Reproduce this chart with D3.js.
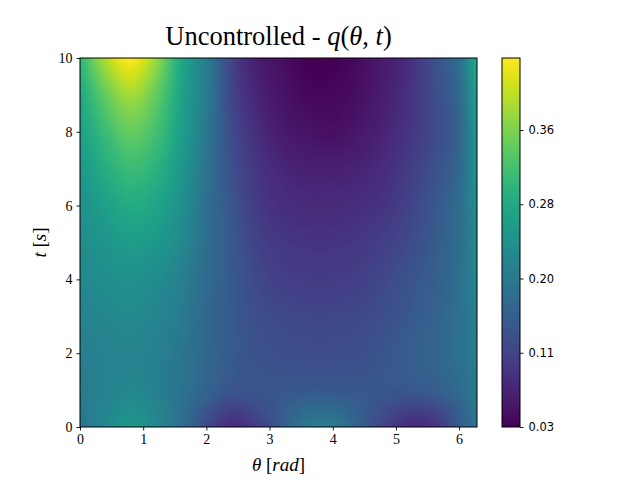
<!DOCTYPE html>
<html><head><meta charset="utf-8">
<script src="https://cdn.jsdelivr.net/npm/d3@7"></script>
<style>body{margin:0;background:#fff} svg{display:block}</style>
</head><body>
<script>
// ---- data ----
const thetaKnots = [0, 0.4, 0.8, 1.2, 1.6, 2.0, 2.4, 2.8, 3.2, 3.6, 4.0, 4.4, 4.8, 5.2, 5.6, 6.0, 6.283];
const tKnots = [0, 0.5, 1, 2, 3, 4, 5, 6, 7, 8, 9, 10];
const qT0   = [.187,.220,.248,.224,.179,.121,.080,.103,.150,.195,.199,.160,.113,.080,.088,.146,.187];
const qT05  = [.195,.216,.232,.216,.183,.142,.111,.125,.148,.168,.170,.152,.129,.111,.119,.156,.195];
const qT1   = [.199,.211,.220,.207,.187,.160,.138,.138,.140,.144,.144,.142,.142,.142,.150,.172,.199];
const qT2   = [.203,.211,.216,.207,.191,.166,.146,.134,.129,.127,.127,.129,.138,.150,.162,.181,.203];
const qT3   = [.211,.220,.224,.216,.199,.168,.146,.129,.121,.117,.117,.121,.129,.142,.158,.181,.211];
const qT4   = [.220,.232,.236,.228,.207,.172,.146,.121,.107,.103,.103,.107,.119,.136,.152,.179,.220];
const qT5   = [.228,.244,.257,.248,.224,.177,.144,.111,.097,.093,.093,.097,.107,.123,.146,.177,.224];
const qT6   = [.236,.261,.281,.269,.236,.181,.140,.101,.086,.081,.081,.085,.093,.112,.140,.177,.232];
const qT7   = [.248,.285,.310,.293,.248,.187,.131,.095,.075,.067,.067,.071,.083,.103,.131,.168,.240];
const qT8   = [.261,.310,.343,.318,.261,.195,.125,.084,.060,.052,.047,.056,.072,.093,.121,.162,.250];
const qT9   = [.277,.343,.384,.343,.269,.199,.117,.072,.052,.039,.039,.047,.064,.088,.125,.170,.265];
const qT10  = [.298,.392,.441,.380,.277,.203,.113,.064,.047,.031,.031,.043,.060,.084,.129,.183,.280];
const qRows = [qT0, qT05, qT1, qT2, qT3, qT4, qT5, qT6, qT7, qT8, qT9, qT10];
const qMin = 0.031, qMax = 0.441;
const xTicks = [0, 1, 2, 3, 4, 5, 6];
const yTicks = [0, 2, 4, 6, 8, 10];
const cbTicks = [0.031, 0.1135, 0.196, 0.2785, 0.361];
const titleText = "Uncontrolled - ";

// ---- layout ----
const W = 640, H = 480;
const m = {left: 80, top: 58, right: 477, bottom: 427};
const pw = m.right - m.left, ph = m.bottom - m.top;
const cb = {x: 502, w: 18};

const svg = d3.select("body").append("svg").attr("width", W).attr("height", H);
const x = d3.scaleLinear().domain([0, 2 * Math.PI]).range([0, pw]);
const y = d3.scaleLinear().domain([0, 10]).range([ph, 0]);
const color = d3.scaleSequential(d3.interpolateViridis).domain([qMin, qMax]);
const cbY = d3.scaleLinear().domain([qMin, qMax]).range([ph, 0]);

// smooth (cubic Hermite) rendering between read grid knots
function hermite(xs, ys, v) {
  const n = xs.length;
  let i = d3.bisectRight(xs, v) - 1; i = Math.max(0, Math.min(n - 2, i));
  const x0 = xs[i], x1 = xs[i + 1], h = x1 - x0, s = (v - x0) / h;
  const tan = k => k === 0 ? (ys[1] - ys[0]) / (xs[1] - xs[0])
    : k === n - 1 ? (ys[n - 1] - ys[n - 2]) / (xs[n - 1] - xs[n - 2])
    : (ys[k + 1] - ys[k - 1]) / (xs[k + 1] - xs[k - 1]);
  const s2 = s * s, s3 = s2 * s;
  return (2*s3 - 3*s2 + 1) * ys[i] + (s3 - 2*s2 + s) * h * tan(i)
       + (-2*s3 + 3*s2) * ys[i + 1] + (s3 - s2) * h * tan(i + 1);
}

const canvas = document.createElement("canvas");
canvas.width = pw; canvas.height = ph;
const ctx = canvas.getContext("2d");
const img = ctx.createImageData(pw, ph);
const rowsAtCols = qRows.map(row => d3.range(pw).map(px => hermite(thetaKnots, row, x.invert(px + 0.5))));
for (let px = 0; px < pw; px++) {
  const col = rowsAtCols.map(r => r[px]);
  for (let py = 0; py < ph; py++) {
    let v = hermite(tKnots, col, y.invert(py + 0.5));
    v = Math.max(qMin, Math.min(qMax, v));
    const c = d3.rgb(color(v));
    const k = (py * pw + px) * 4;
    img.data[k] = c.r; img.data[k + 1] = c.g; img.data[k + 2] = c.b; img.data[k + 3] = 255;
  }
}
ctx.putImageData(img, 0, 0);

const g = svg.append("g").attr("transform", `translate(${m.left},${m.top})`);
g.append("image").attr("x", 0).attr("y", 0).attr("width", pw).attr("height", ph)
  .attr("preserveAspectRatio", "none").attr("href", canvas.toDataURL());
g.append("rect").attr("width", pw).attr("height", ph).attr("fill", "none").attr("stroke", "#000").attr("stroke-width", 1);

const serif = "'Liberation Serif', 'DejaVu Serif', serif";
const xAxis = g.append("g").attr("transform", `translate(0,${ph})`)
  .call(d3.axisBottom(x).tickValues(xTicks).tickSize(3.5).tickPadding(4).tickFormat(d3.format("d")));
const yAxis = g.append("g")
  .call(d3.axisLeft(y).tickValues(yTicks).tickSize(3.5).tickPadding(4).tickFormat(d3.format("d")));
[xAxis, yAxis].forEach(a => {
  a.select(".domain").remove();
  a.selectAll("line").attr("stroke", "#000").attr("stroke-width", 0.9);
  a.selectAll("text").attr("font-family", serif).attr("font-size", 14).attr("fill", "#000");
});

// colorbar
const defs = svg.append("defs");
const grad = defs.append("linearGradient").attr("id", "cbg").attr("x1", 0).attr("y1", 1).attr("x2", 0).attr("y2", 0);
d3.range(0, 1.0001, 0.02).forEach(f => grad.append("stop").attr("offset", f).attr("stop-color", d3.interpolateViridis(f)));
const cg = svg.append("g").attr("transform", `translate(${cb.x},${m.top})`);
cg.append("rect").attr("width", cb.w).attr("height", ph).attr("fill", "url(#cbg)").attr("stroke", "#000").attr("stroke-width", 1);
const cAxis = cg.append("g").attr("transform", `translate(${cb.w},0)`)
  .call(d3.axisRight(cbY).tickValues(cbTicks).tickSize(3.5).tickPadding(5).tickFormat(d3.format(".2f")));
cAxis.select(".domain").remove();
cAxis.selectAll("line").attr("stroke", "#000").attr("stroke-width", 0.9);
cAxis.selectAll("text").attr("font-family", "'DejaVu Sans', sans-serif").attr("font-size", 11.5).attr("fill", "#000");

// title
const title = svg.append("text").attr("x", m.left + pw / 2).attr("y", 45).attr("text-anchor", "middle")
  .attr("font-family", serif).attr("font-size", 26.5).attr("fill", "#000");
title.append("tspan").text(titleText);
title.append("tspan").attr("font-style", "italic").text("q");
title.append("tspan").text("(");
title.append("tspan").attr("font-style", "italic").text("θ");
title.append("tspan").text(", ");
title.append("tspan").attr("font-style", "italic").text("t");
title.append("tspan").text(")");

// axis labels
const xl = svg.append("text").attr("x", m.left + pw / 2).attr("y", 471).attr("text-anchor", "middle")
  .attr("font-family", serif).attr("font-size", 19).attr("fill", "#000");
xl.append("tspan").attr("font-style", "italic").text("θ");
xl.append("tspan").text(" [");
xl.append("tspan").attr("font-style", "italic").text("rad");
xl.append("tspan").text("]");

const yl = svg.append("text").attr("transform", `translate(46,${m.top + ph / 2}) rotate(-90)`).attr("text-anchor", "middle")
  .attr("font-family", serif).attr("font-size", 19).attr("fill", "#000");
yl.append("tspan").attr("font-style", "italic").text("t");
yl.append("tspan").text(" [");
yl.append("tspan").attr("font-style", "italic").text("s");
yl.append("tspan").text("]");
</script>
</body></html>
